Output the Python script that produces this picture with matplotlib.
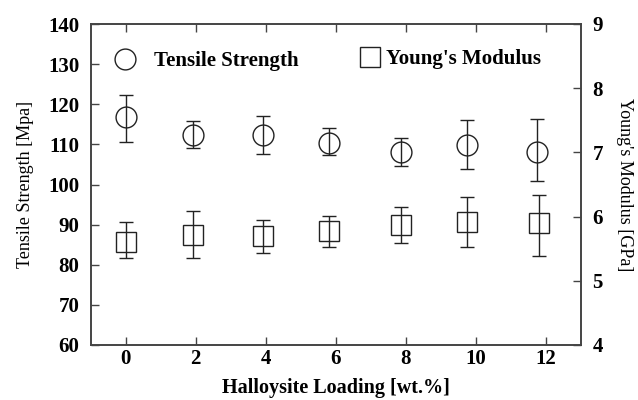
import matplotlib
matplotlib.use('Agg')
import matplotlib.pyplot as plt
from matplotlib.lines import Line2D

plt.rcParams['font.family'] = ['Liberation Serif', 'DejaVu Serif']

# loading positions
loading_ts = [0, 1.92, 3.93, 5.8, 7.85, 9.75, 11.75]
tensile = [116.7, 112.3, 112.3, 110.4, 108.2, 109.8, 108.2]
tensile_hi = [122.4, 115.9, 117.1, 114.1, 111.5, 116.1, 116.2]
tensile_lo = [110.7, 109.1, 107.7, 107.3, 104.7, 103.9, 100.8]

loading_ym = [0, 1.92, 3.93, 5.8, 7.85, 9.75, 11.8]
modulus = [5.61, 5.71, 5.70, 5.78, 5.87, 5.92, 5.90]
modulus_hi = [5.91, 6.08, 5.95, 6.01, 6.15, 6.30, 6.34]
modulus_lo = [5.36, 5.36, 5.44, 5.53, 5.59, 5.52, 5.39]

xticks = [0, 2, 4, 6, 8, 10, 12]

fig = plt.figure(figsize=(6.38, 4), dpi=100)
ax = fig.add_axes([0.142, 0.1375, 0.769, 0.8025])
ax2 = ax.twinx()

ts_err = [[t - l for t, l in zip(tensile, tensile_lo)],
          [h - t for t, h in zip(tensile, tensile_hi)]]
ym_err = [[m - l for m, l in zip(modulus, modulus_lo)],
          [h - m for m, h in zip(modulus, modulus_hi)]]

ax.errorbar(loading_ts, tensile, yerr=ts_err, fmt='o', ms=15, mfc='none',
            mec='#222222', mew=1.0, ecolor='#222222', elinewidth=1.0,
            capsize=5, capthick=1.0)
ax2.errorbar(loading_ym, modulus, yerr=ym_err, fmt='s', ms=15, mfc='none',
             mec='#222222', mew=1.0, ecolor='#222222', elinewidth=1.0,
             capsize=5, capthick=1.0)

ax.set_xlim(-1, 13)
ax.set_ylim(60, 140)
ax2.set_ylim(4, 9)
ax.set_xticks(xticks)
ax.set_yticks(range(60, 141, 10))
ax2.set_yticks(range(4, 10))

for a in (ax, ax2):
    for s in a.spines.values():
        s.set_linewidth(1.2)
        s.set_color('#444444')
ax.tick_params(axis='both', direction='in', length=6, width=1.0, color='#444444',
               labelsize=15, pad=3, top=True)
ax.tick_params(axis='y', right=False, pad=8)
ax2.tick_params(axis='y', direction='in', length=6, width=1.0, color='#444444',
                labelsize=15, pad=8)
for lab in ax.get_xticklabels() + ax.get_yticklabels() + ax2.get_yticklabels():
    lab.set_fontweight('bold')

ax.set_xlabel('Halloysite Loading [wt.%]', fontsize=14.5, fontweight='bold', labelpad=6)
ax.set_ylabel('Tensile Strength [Mpa]', fontsize=13, labelpad=10)
ax2.set_ylabel("Young's Modulus [GPa]", fontsize=13, rotation=-90, labelpad=22)

h1 = Line2D([], [], ls='none', marker='o', ms=15, mfc='none', mec='#222222', mew=1.0)
h2 = Line2D([], [], ls='none', marker='s', ms=15, mfc='none', mec='#222222', mew=1.0)
leg1 = ax.legend([h1], ['Tensile Strength'], loc='center left',
                 bbox_to_anchor=(0.026, 0.885), frameon=False,
                 prop={'size': 15, 'weight': 'bold'}, handlelength=1.3,
                 handletextpad=0.75, borderaxespad=0)
leg2 = ax2.legend([h2], ["Young's Modulus"], loc='center left',
                  bbox_to_anchor=(0.525, 0.89), frameon=False,
                  prop={'size': 15, 'weight': 'bold'}, handlelength=1.3,
                  handletextpad=0.1, borderaxespad=0)

fig.savefig('out.png', dpi=100)
